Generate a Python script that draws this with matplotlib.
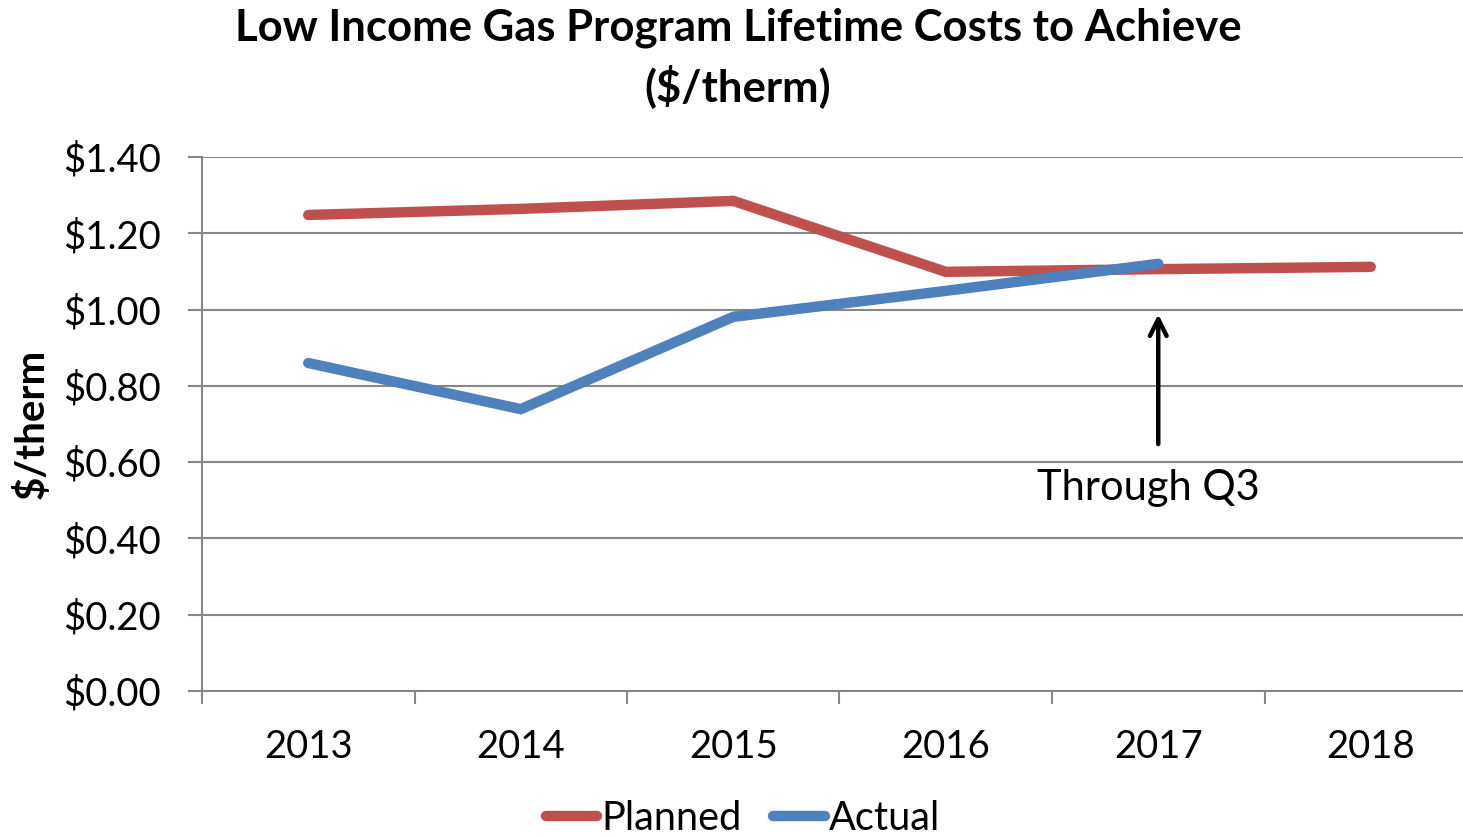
import matplotlib.pyplot as plt
from matplotlib.ticker import FuncFormatter

years = ["2013", "2014", "2015", "2016", "2017", "2018"]
planned = [1.248, 1.264, 1.285, 1.099, 1.106, 1.112]
actual = [0.860, 0.739, 0.981, 1.049, 1.120]

RED = "#C0504D"
BLUE = "#4F81BD"
GRID = "#888888"

plt.rcParams['font.family'] = ['Lato', 'DejaVu Sans']

fig = plt.figure(figsize=(14.63, 8.36), dpi=100)
ax = fig.add_axes([202 / 1463, 0.1734, 1 - 202 / 1463, 0.6388])

x = list(range(len(years)))
ax.plot(x, planned, color=RED, lw=7.5, solid_capstyle='round',
        solid_joinstyle='miter', label="Planned", zorder=3)
ax.plot(x[:len(actual)], actual, color=BLUE, lw=7.5, solid_capstyle='round',
        solid_joinstyle='miter', label="Actual", zorder=4)

ax.set_ylim(0, 1.4)
ax.set_yticks([i * 0.2 for i in range(8)])
ax.yaxis.set_major_formatter(FuncFormatter(lambda v, p: f"${v:.2f}"))
ax.set_xlim(-0.5, (1463 - 202) / 212.5 - 0.5)

# category labels in the middle, tick marks on the boundaries
ax.set_xticks(x)
ax.set_xticklabels(years)
ax.set_xticks([i - 0.5 for i in range(6)], minor=True)
ax.tick_params(axis='x', which='major', length=0, pad=27, labelsize=27.5)
ax.tick_params(axis='x', which='minor', length=9, width=1.5, color=GRID,
               direction='out')
ax.tick_params(axis='y', length=10, width=1.5, color=GRID, pad=19.5,
               labelsize=27.5)

ax.grid(axis='y', color=GRID, lw=1.5, zorder=0)
for s in ["top", "right"]:
    ax.spines[s].set_visible(False)
for s in ["left", "bottom"]:
    ax.spines[s].set_color(GRID)
    ax.spines[s].set_linewidth(1.5)

ax.set_ylabel("$/therm", fontsize=29, fontweight='bold', va='center')
ax.yaxis.set_label_coords((32 - 202) / 1261, 0.5)

fig.text(738 / 1463, 1 - 28 / 836, "Low Income Gas Program Lifetime Costs to Achieve",
         ha='center', va='center', fontsize=31.4, fontweight='bold')
fig.text(738 / 1463, 1 - 86 / 836, "($/therm)",
         ha='center', va='center', fontsize=31.4, fontweight='bold')

ax.annotate("", xy=(4, 0.995), xytext=(4, 0.64),
            arrowprops=dict(arrowstyle='->', lw=3.2, color='black',
                            mutation_scale=30))
ax.text(3.952, 0.532, "Through Q3", ha='center', va='center', fontsize=30)

fig.legend(loc='center', bbox_to_anchor=(743 / 1463, 1 - 818 / 836),
           ncol=2, frameon=False, fontsize=28.6, handlelength=1.3,
           handletextpad=0.1, columnspacing=0.8)

fig.savefig("out.png", dpi=100)
